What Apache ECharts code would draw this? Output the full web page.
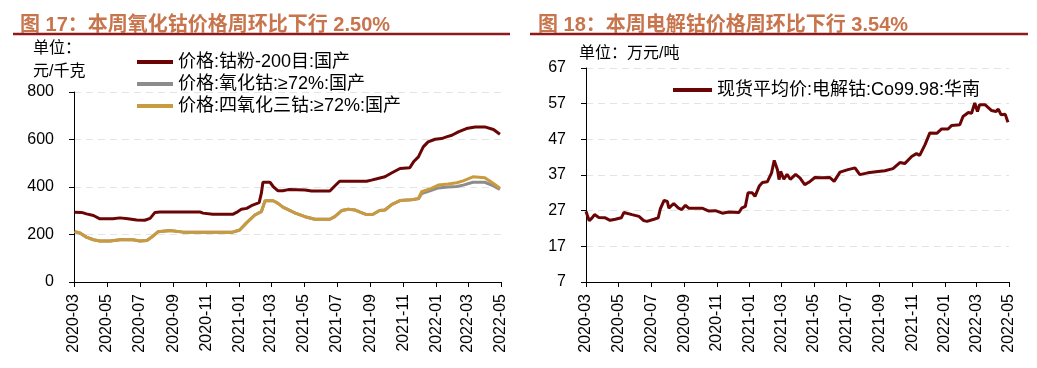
<!DOCTYPE html>
<html>
<head>
<meta charset="utf-8">
<script src="https://cdn.jsdelivr.net/npm/echarts@6/dist/echarts.min.js"></script>
<style>
html,body{margin:0;padding:0;background:#fff;}
#chart{width:1037px;height:368px;}
</style>
</head>
<body>
<div id="chart"></div>
<script>
// ---------- Data ----------
const leftTitle = '图 17：本周氧化钴价格周环比下行 2.50%';
const rightTitle = '图 18：本周电解钴价格周环比下行 3.54%';
const leftUnit1 = '单位：';
const leftUnit2 = '元/千克';
const rightUnit = '单位：万元/吨';

const nameCobaltPowder = '价格:钴粉-200目:国产';
const nameCobaltOxide = '价格:氧化钴:≥72%:国产';
const nameTricobalt = '价格:四氧化三钴:≥72%:国产';
const nameElectrolytic = '现货平均价:电解钴:Co99.98:华南';

const leftYTicks = { min: 0, max: 800, interval: 200 };
const rightYTicks = { min: 7, max: 67, interval: 10 };

const powderDates = ['2020-03-02','2020-03-15','2020-03-24','2020-04-06','2020-04-18','2020-05-12','2020-05-25','2020-06-09','2020-06-25','2020-07-10','2020-07-20','2020-07-29','2020-08-07','2020-10-20','2020-10-26','2020-11-13','2020-12-20','2020-12-27','2021-01-05','2021-01-15','2021-01-26','2021-02-07','2021-02-11','2021-02-14','2021-02-27','2021-03-05','2021-03-14','2021-03-23','2021-04-02','2021-05-03','2021-05-15','2021-06-18','2021-06-27','2021-07-06','2021-08-25','2021-09-03','2021-09-15','2021-09-28','2021-10-11','2021-10-26','2021-11-13','2021-11-20','2021-11-29','2021-12-08','2021-12-17','2021-12-30','2022-01-11','2022-01-20','2022-01-30','2022-02-11','2022-02-26','2022-03-14','2022-04-01','2022-04-17','2022-04-29'];
const powderValues = [294,293,287,280,266,266,270,266,261,260,268,293,295,295,290,285,285,293,306,310,324,334,373,420,420,402,384,384,389,387,383,383,404,424,424,429,436,443,460,478,481,506,527,569,590,601,604,611,618,632,646,653,653,642,622];

const oxideDates = ['2020-03-02','2020-03-12','2020-03-24','2020-04-06','2020-04-18','2020-05-07','2020-05-25','2020-06-18','2020-07-01','2020-07-14','2020-07-23','2020-08-04','2020-08-26','2020-09-19','2020-10-26','2020-12-20','2021-01-02','2021-01-15','2021-01-30','2021-02-11','2021-02-18','2021-03-05','2021-03-14','2021-03-23','2021-04-15','2021-05-03','2021-05-21','2021-06-18','2021-06-27','2021-07-10','2021-07-22','2021-08-04','2021-08-13','2021-08-25','2021-09-06','2021-09-18','2021-09-28','2021-10-11','2021-10-26','2021-11-16','2021-11-29','2021-12-05','2021-12-23','2022-01-05','2022-01-23','2022-02-08','2022-02-20','2022-03-10','2022-04-01','2022-04-17','2022-04-29'];
const tricobaltValues = [212,206,189,178,173,173,178,178,173,175,189,212,217,210,210,210,219,250,282,296,342,342,331,315,290,275,264,264,275,301,306,303,294,284,285,301,303,327,343,346,352,380,394,408,413,418,426,443,439,415,395];
const oxideValues = [212,206,189,178,173,173,178,178,173,175,189,212,217,210,210,210,219,250,282,296,342,342,331,315,290,275,264,264,275,301,306,303,294,284,285,301,303,327,343,346,350,372,386,396,400,402,408,420,420,405,390];

const electroDates = ['2020-03-01','2020-03-03','2020-03-07','2020-03-12','2020-03-17','2020-03-25','2020-04-06','2020-04-15','2020-04-25','2020-05-06','2020-05-11','2020-05-26','2020-06-08','2020-06-17','2020-06-23','2020-07-06','2020-07-14','2020-07-18','2020-07-25','2020-07-31','2020-08-03','2020-08-12','2020-08-21','2020-08-27','2020-09-03','2020-09-09','2020-10-04','2020-10-17','2020-10-29','2020-11-11','2020-11-23','2020-12-12','2020-12-17','2020-12-24','2020-12-29','2021-01-06','2021-01-11','2021-01-19','2021-01-25','2021-02-03','2021-02-11','2021-02-16','2021-02-22','2021-02-25','2021-02-28','2021-03-06','2021-03-12','2021-03-18','2021-03-28','2021-04-05','2021-04-14','2021-04-24','2021-05-03','2021-05-15','2021-05-31','2021-06-08','2021-06-19','2021-07-04','2021-07-17','2021-07-26','2021-08-10','2021-08-29','2021-09-11','2021-09-26','2021-10-09','2021-10-18','2021-10-31','2021-11-09','2021-11-15','2021-11-25','2021-12-04','2021-12-17','2021-12-26','2022-01-07','2022-01-14','2022-01-29','2022-02-04','2022-02-14','2022-02-20','2022-02-26','2022-03-03','2022-03-07','2022-03-17','2022-03-29','2022-04-07','2022-04-11','2022-04-16','2022-04-24','2022-04-29'];
const electroValues = [26.8,25.9,24.2,24.9,25.9,25.1,25.0,24.3,24.6,25.0,26.5,25.9,25.4,24.2,24.0,24.6,25.0,27.5,29.9,29.6,27.7,29.0,27.7,27.3,28.5,27.7,27.7,26.9,27.0,26.3,26.6,26.5,27.7,28.2,32.0,32.0,31.0,33.9,34.9,35.1,37.6,41.1,38.5,35.7,38.0,35.8,37.2,35.8,37.2,36.2,34.3,35.2,36.3,36.2,36.3,35.2,37.8,38.5,39.0,37.1,37.6,38.0,38.2,38.8,40.5,40.2,42.2,43.0,42.5,45.5,48.8,48.7,49.9,49.9,50.9,51.1,53.4,54.5,54.3,57.2,54.8,56.7,56.7,55.1,54.8,55.5,53.9,54.0,51.8];

// ---------- Daily category axis (2020-03-01 .. 2022-05-01) ----------
const categories = [];
for (let t = Date.UTC(2020, 2, 1); t <= Date.UTC(2022, 4, 1); t += 86400000) {
  categories.push(new Date(t).toISOString().slice(0, 10));
}
const catIndex = {};
categories.forEach((d, i) => { catIndex[d] = i; });
const toPairs = (dates, vals) => dates.map((d, i) => [catIndex[d], vals[i]]);
const isTick = (i, v) => v.slice(8) === '01' && (parseInt(v.slice(5, 7), 10) % 2 === 1);

// ---------- Styles ----------
const FONT = 'Arial, "Liberation Sans", "Noto Sans CJK SC", sans-serif';
const TITLE_COLOR = '#C8744C';
const RULE_COLOR = '#8E1B1B';
const MAROON = '#6B0505';
const GRAY = '#8C8C8C';
const GOLD = '#C99A3E';

function xAxisCfg(gridIndex) {
  return {
    type: 'category', gridIndex, data: categories, boundaryGap: false,
    axisLine: { show: true, lineStyle: { color: '#000', width: 1 } },
    axisTick: { show: true, interval: isTick, length: 5, lineStyle: { color: '#000' } },
    axisLabel: { interval: isTick, rotate: 90, margin: 12, color: '#000', fontSize: 16, fontFamily: FONT,
      formatter: v => v.slice(0, 7) },
    splitLine: { show: false }
  };
}
function yAxisCfg(gridIndex, t) {
  return {
    type: 'value', gridIndex, min: t.min, max: t.max, interval: t.interval,
    axisLine: { show: true, lineStyle: { color: '#000', width: 1 } },
    axisTick: { show: true, length: 5, lineStyle: { color: '#000' } },
    axisLabel: { margin: 20, color: '#000', fontSize: 16, fontFamily: FONT },
    splitLine: { show: true, lineStyle: { color: '#e4e4e4', type: [7, 5], width: 1 } }
  };
}
function lineSeries(name, color, xi, data, z) {
  return { name, type: 'line', xAxisIndex: xi, yAxisIndex: xi, data, showSymbol: false, symbol: 'none',
    smooth: false, lineStyle: { color, width: 3 }, itemStyle: { color }, z, animation: false };
}

const chart = echarts.init(document.getElementById('chart'), null, { renderer: 'canvas' });
chart.setOption({
  animation: false,
  backgroundColor: '#fff',
  title: [
    { text: leftTitle, left: 15, top: 10, textStyle: { color: TITLE_COLOR, fontSize: 20, fontWeight: 'bold', fontFamily: FONT } },
    { text: rightTitle, left: 533, top: 10, textStyle: { color: TITLE_COLOR, fontSize: 20, fontWeight: 'bold', fontFamily: FONT } }
  ],
  grid: [
    { left: 74, right: 536, top: 92, bottom: 86, outerBoundsMode: 'none', containLabel: false },
    { left: 586, right: 28, top: 68, bottom: 86, outerBoundsMode: 'none', containLabel: false }
  ],
  xAxis: [xAxisCfg(0), xAxisCfg(1)],
  yAxis: [yAxisCfg(0, leftYTicks), yAxisCfg(1, rightYTicks)],
  legend: [
    { data: [nameCobaltPowder, nameCobaltOxide, nameTricobalt], orient: 'vertical', left: 132, top: 48,
      itemWidth: 36, itemHeight: 4, icon: 'rect', itemGap: 4,
      textStyle: { fontSize: 18, color: '#000', fontFamily: FONT } },
    { data: [nameElectrolytic], orient: 'horizontal', left: 668, top: 76,
      itemWidth: 39, itemHeight: 4, icon: 'rect',
      textStyle: { fontSize: 18, color: '#000', fontFamily: FONT } }
  ],
  graphic: [
    { type: 'line', shape: { x1: 13, y1: 34, x2: 510, y2: 34 }, style: { stroke: RULE_COLOR, lineWidth: 2.5 } },
    { type: 'line', shape: { x1: 530, y1: 34, x2: 1028, y2: 34 }, style: { stroke: RULE_COLOR, lineWidth: 2.5 } },
    { type: 'text', left: 33, top: 41, style: { text: leftUnit1, fill: '#000', font: '16px ' + FONT } },
    { type: 'text', left: 33, top: 64, style: { text: leftUnit2, fill: '#000', font: '16px ' + FONT } },
    { type: 'text', left: 579, top: 46, style: { text: rightUnit, fill: '#000', font: '16px ' + FONT } }
  ],
  series: [
    lineSeries(nameCobaltPowder, MAROON, 0, toPairs(powderDates, powderValues), 3),
    lineSeries(nameCobaltOxide, GRAY, 0, toPairs(oxideDates, oxideValues), 2),
    lineSeries(nameTricobalt, GOLD, 0, toPairs(oxideDates, tricobaltValues), 4),
    lineSeries(nameElectrolytic, MAROON, 1, toPairs(electroDates, electroValues), 3)
  ]
});
</script>
</body>
</html>
